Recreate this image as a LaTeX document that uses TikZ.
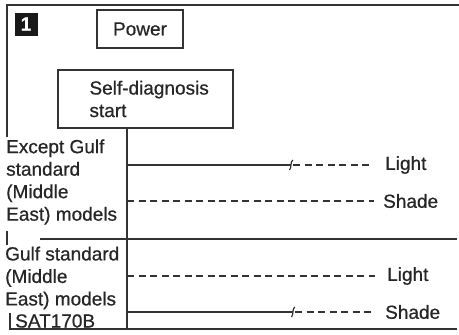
\documentclass[tikz,border=0pt]{standalone}
\usepackage{fontspec}
\setmainfont{Liberation Sans}[FakeBold=0.6]

\newcommand{\breakmark}[1]{%
  \draw[wire] ([shift={(-1.5,5)}]#1) .. controls ([shift={(0.8,2.5)}]#1) and ([shift={(-1,-3)}]#1) .. ([shift={(1.8,-5)}]#1);}

\begin{document}
\begin{tikzpicture}[x=1pt,y=-1pt,
  every node/.style={font=\fontsize{19}{22.5}\selectfont, text=black!85, inner sep=0pt},
  frame/.style={line width=1.8pt, draw=black!80},
  box/.style={draw=black!80, line width=1.4pt},
  wire/.style={line width=1.2pt, draw=black!80},
  dashwire/.style={wire, dash pattern=on 7pt off 4.5pt}]
\useasboundingbox[fill=white] (0,0) rectangle (459,335);

% outer frame, broken where the model names stand
\draw[frame] (7,137) -- (7,5) -- (459,5);
\draw[frame] (7,231) -- (7,245);
\draw[frame] (10,313) -- (10,329) -- (457,329);
\draw[frame] (40,239) -- (457,239);

\node[fill=black!90, text=white, minimum size=23pt, font=\bfseries\fontsize{19}{19}\selectfont] (num) at (26,24) {1};

\node[box, minimum width=86pt, minimum height=38pt] (power) at (140,29) {Power};
\node[box, minimum width=175pt, minimum height=58pt] (diag) at (145.5,99) {};
\node[anchor=west, align=left] (diagtext) at ([xshift=32pt]diag.west) {Self-diagnosis\\start};

\node[anchor=west, align=left] (other) at (6,182) {Except Gulf\\standard\\(Middle\\East) models};
\node[anchor=west, align=left] (gulf) at (5,278) {Gulf standard\\(Middle\\East) models};
\node[anchor=west] (code) at (15,321) {SAT170B};

\node[anchor=west] (light1) at (385,165) {Light};
\node[anchor=west] (shade1) at (383,201) {Shade};
\node[anchor=west] (light2) at (387,276) {Light};
\node[anchor=west] (shade2) at (385,312) {Shade};

\coordinate (trunk) at (127,329);
\coordinate (brk1) at (291,165);
\coordinate (brk2) at (293,312);

\draw[wire] (diag.south -| trunk) -- (trunk);

\draw[wire] (trunk |- brk1) -- (brk1);
\breakmark{brk1}
\draw[dashwire] ([xshift=2pt]brk1) -- ([xshift=-12pt]light1.west);
\draw[dashwire] (trunk |- shade1.west) -- ([xshift=-9pt]shade1.west);

\draw[dashwire] (trunk |- light2.west) -- ([xshift=-12pt]light2.west);
\draw[wire] (trunk |- brk2) -- (brk2);
\breakmark{brk2}
\draw[dashwire] ([xshift=2pt]brk2) -- ([xshift=-10pt]shade2.west);
\end{tikzpicture}
\end{document}
